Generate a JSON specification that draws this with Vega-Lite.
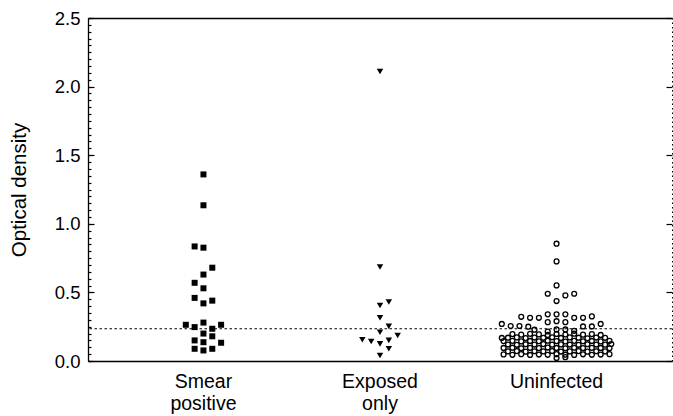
{
  "$schema": "https://vega.github.io/schema/vega-lite/v6.json",
  "width": 584,
  "height": 343,
  "autosize": {"type": "none"},
  "padding": {"left": 88, "top": 18, "right": 1, "bottom": 55},
  "background": "white",
  "config": {
    "view": {"stroke": null},
    "axis": {
      "labelFont": "Liberation Sans",
      "titleFont": "Liberation Sans",
      "labelColor": "black",
      "titleColor": "black",
      "domainColor": "black",
      "tickColor": "black",
      "grid": false,
      "domainWidth": 1.3,
      "tickWidth": 1.2
    }
  },
  "data": {
    "values": [
      {"group": "Smear positive", "col": 0, "od": 1.36},
      {"group": "Smear positive", "col": 0, "od": 1.135},
      {"group": "Smear positive", "col": -1, "od": 0.835},
      {"group": "Smear positive", "col": 0, "od": 0.826},
      {"group": "Smear positive", "col": 1, "od": 0.68},
      {"group": "Smear positive", "col": 0, "od": 0.63},
      {"group": "Smear positive", "col": -1, "od": 0.57},
      {"group": "Smear positive", "col": 0, "od": 0.53},
      {"group": "Smear positive", "col": -1, "od": 0.46},
      {"group": "Smear positive", "col": 0, "od": 0.42},
      {"group": "Smear positive", "col": 1, "od": 0.44},
      {"group": "Smear positive", "col": -2, "od": 0.264},
      {"group": "Smear positive", "col": -1, "od": 0.247},
      {"group": "Smear positive", "col": 0, "od": 0.28},
      {"group": "Smear positive", "col": 1, "od": 0.235},
      {"group": "Smear positive", "col": 2, "od": 0.264},
      {"group": "Smear positive", "col": 0, "od": 0.2},
      {"group": "Smear positive", "col": 1, "od": 0.18},
      {"group": "Smear positive", "col": -1, "od": 0.15},
      {"group": "Smear positive", "col": 0, "od": 0.137},
      {"group": "Smear positive", "col": 2, "od": 0.133},
      {"group": "Smear positive", "col": -1, "od": 0.089},
      {"group": "Smear positive", "col": 0, "od": 0.077},
      {"group": "Smear positive", "col": 1, "od": 0.089},
      {"group": "Exposed only", "col": 0, "od": 2.11},
      {"group": "Exposed only", "col": 0, "od": 0.685},
      {"group": "Exposed only", "col": 0, "od": 0.405},
      {"group": "Exposed only", "col": 1, "od": 0.43},
      {"group": "Exposed only", "col": 0, "od": 0.315},
      {"group": "Exposed only", "col": 1, "od": 0.252},
      {"group": "Exposed only", "col": 0, "od": 0.21},
      {"group": "Exposed only", "col": 2, "od": 0.186},
      {"group": "Exposed only", "col": -2, "od": 0.155},
      {"group": "Exposed only", "col": -1, "od": 0.142},
      {"group": "Exposed only", "col": 0, "od": 0.125},
      {"group": "Exposed only", "col": 1, "od": 0.15},
      {"group": "Exposed only", "col": 1, "od": 0.089},
      {"group": "Exposed only", "col": 0, "od": 0.04},
      {"group": "Uninfected", "col": 0, "od": 0.855},
      {"group": "Uninfected", "col": 0, "od": 0.726},
      {"group": "Uninfected", "col": 0, "od": 0.551},
      {"group": "Uninfected", "col": -1, "od": 0.49},
      {"group": "Uninfected", "col": 1, "od": 0.478},
      {"group": "Uninfected", "col": 2, "od": 0.49},
      {"group": "Uninfected", "col": 0, "od": 0.437},
      {"group": "Uninfected", "col": -4, "od": 0.322},
      {"group": "Uninfected", "col": -3, "od": 0.315},
      {"group": "Uninfected", "col": -2, "od": 0.315},
      {"group": "Uninfected", "col": -1, "od": 0.34},
      {"group": "Uninfected", "col": 0, "od": 0.34},
      {"group": "Uninfected", "col": 1, "od": 0.34},
      {"group": "Uninfected", "col": 2, "od": 0.315},
      {"group": "Uninfected", "col": 3, "od": 0.315},
      {"group": "Uninfected", "col": 4, "od": 0.325},
      {"group": "Uninfected", "col": -1, "od": 0.283},
      {"group": "Uninfected", "col": 0, "od": 0.29},
      {"group": "Uninfected", "col": 1, "od": 0.283},
      {"group": "Uninfected", "col": -6.2, "od": 0.27},
      {"group": "Uninfected", "col": -5.2, "od": 0.255},
      {"group": "Uninfected", "col": -4.2, "od": 0.255},
      {"group": "Uninfected", "col": -3.2, "od": 0.25},
      {"group": "Uninfected", "col": 3, "od": 0.252},
      {"group": "Uninfected", "col": 4, "od": 0.252},
      {"group": "Uninfected", "col": 5, "od": 0.27},
      {"group": "Uninfected", "col": -2.5, "od": 0.228},
      {"group": "Uninfected", "col": -1, "od": 0.215},
      {"group": "Uninfected", "col": 0, "od": 0.23},
      {"group": "Uninfected", "col": 1, "od": 0.23},
      {"group": "Uninfected", "col": 2, "od": 0.22},
      {"group": "Uninfected", "col": -5, "od": 0.196},
      {"group": "Uninfected", "col": -4, "od": 0.192},
      {"group": "Uninfected", "col": -3, "od": 0.198},
      {"group": "Uninfected", "col": -2, "od": 0.194},
      {"group": "Uninfected", "col": -1, "od": 0.19},
      {"group": "Uninfected", "col": 0, "od": 0.197},
      {"group": "Uninfected", "col": 1, "od": 0.193},
      {"group": "Uninfected", "col": 2, "od": 0.199},
      {"group": "Uninfected", "col": 3, "od": 0.192},
      {"group": "Uninfected", "col": 4, "od": 0.196},
      {"group": "Uninfected", "col": 5, "od": 0.19},
      {"group": "Uninfected", "col": -6.2, "od": 0.168},
      {"group": "Uninfected", "col": -5.5, "od": 0.17},
      {"group": "Uninfected", "col": -4.5, "od": 0.172},
      {"group": "Uninfected", "col": -3.5, "od": 0.167},
      {"group": "Uninfected", "col": -2.5, "od": 0.171},
      {"group": "Uninfected", "col": -1.5, "od": 0.169},
      {"group": "Uninfected", "col": -0.5, "od": 0.173},
      {"group": "Uninfected", "col": 0.5, "od": 0.168},
      {"group": "Uninfected", "col": 1.5, "od": 0.172},
      {"group": "Uninfected", "col": 2.5, "od": 0.17},
      {"group": "Uninfected", "col": 3.5, "od": 0.166},
      {"group": "Uninfected", "col": 4.5, "od": 0.171},
      {"group": "Uninfected", "col": 5.5, "od": 0.169},
      {"group": "Uninfected", "col": -6, "od": 0.145},
      {"group": "Uninfected", "col": -5, "od": 0.147},
      {"group": "Uninfected", "col": -4, "od": 0.143},
      {"group": "Uninfected", "col": -3, "od": 0.146},
      {"group": "Uninfected", "col": -2, "od": 0.144},
      {"group": "Uninfected", "col": -1, "od": 0.148},
      {"group": "Uninfected", "col": 0, "od": 0.145},
      {"group": "Uninfected", "col": 1, "od": 0.142},
      {"group": "Uninfected", "col": 2, "od": 0.147},
      {"group": "Uninfected", "col": 3, "od": 0.144},
      {"group": "Uninfected", "col": 4, "od": 0.146},
      {"group": "Uninfected", "col": 5, "od": 0.143},
      {"group": "Uninfected", "col": 6, "od": 0.147},
      {"group": "Uninfected", "col": -5.5, "od": 0.12},
      {"group": "Uninfected", "col": -4.5, "od": 0.118},
      {"group": "Uninfected", "col": -3.5, "od": 0.122},
      {"group": "Uninfected", "col": -2.5, "od": 0.12},
      {"group": "Uninfected", "col": -1.5, "od": 0.123},
      {"group": "Uninfected", "col": -0.5, "od": 0.119},
      {"group": "Uninfected", "col": 0.5, "od": 0.121},
      {"group": "Uninfected", "col": 1.5, "od": 0.12},
      {"group": "Uninfected", "col": 2.5, "od": 0.118},
      {"group": "Uninfected", "col": 3.5, "od": 0.122},
      {"group": "Uninfected", "col": 4.5, "od": 0.12},
      {"group": "Uninfected", "col": 5.5, "od": 0.119},
      {"group": "Uninfected", "col": 6.2, "od": 0.124},
      {"group": "Uninfected", "col": -6, "od": 0.095},
      {"group": "Uninfected", "col": -5, "od": 0.097},
      {"group": "Uninfected", "col": -4, "od": 0.093},
      {"group": "Uninfected", "col": -3, "od": 0.096},
      {"group": "Uninfected", "col": -2, "od": 0.094},
      {"group": "Uninfected", "col": -1, "od": 0.098},
      {"group": "Uninfected", "col": 0, "od": 0.095},
      {"group": "Uninfected", "col": 1, "od": 0.093},
      {"group": "Uninfected", "col": 2, "od": 0.097},
      {"group": "Uninfected", "col": 3, "od": 0.094},
      {"group": "Uninfected", "col": 4, "od": 0.096},
      {"group": "Uninfected", "col": 5, "od": 0.095},
      {"group": "Uninfected", "col": 6, "od": 0.093},
      {"group": "Uninfected", "col": -5.5, "od": 0.07},
      {"group": "Uninfected", "col": -4.5, "od": 0.072},
      {"group": "Uninfected", "col": -3.5, "od": 0.068},
      {"group": "Uninfected", "col": -2.5, "od": 0.071},
      {"group": "Uninfected", "col": -1.5, "od": 0.07},
      {"group": "Uninfected", "col": -0.5, "od": 0.073},
      {"group": "Uninfected", "col": 0.5, "od": 0.069},
      {"group": "Uninfected", "col": 1.5, "od": 0.07},
      {"group": "Uninfected", "col": 2.5, "od": 0.072},
      {"group": "Uninfected", "col": 3.5, "od": 0.068},
      {"group": "Uninfected", "col": 4.5, "od": 0.071},
      {"group": "Uninfected", "col": 5.5, "od": 0.07},
      {"group": "Uninfected", "col": -6, "od": 0.048},
      {"group": "Uninfected", "col": -5, "od": 0.045},
      {"group": "Uninfected", "col": -4, "od": 0.05},
      {"group": "Uninfected", "col": -3, "od": 0.044},
      {"group": "Uninfected", "col": -2, "od": 0.047},
      {"group": "Uninfected", "col": -1, "od": 0.045},
      {"group": "Uninfected", "col": 0, "od": 0.05},
      {"group": "Uninfected", "col": 1, "od": 0.046},
      {"group": "Uninfected", "col": 2, "od": 0.044},
      {"group": "Uninfected", "col": 3, "od": 0.049},
      {"group": "Uninfected", "col": 4, "od": 0.045},
      {"group": "Uninfected", "col": 5, "od": 0.047},
      {"group": "Uninfected", "col": 6, "od": 0.05},
      {"group": "Uninfected", "col": 0, "od": 0.022},
      {"group": "Uninfected", "col": 1, "od": 0.028}
    ]
  },
  "layer": [
    {
      "data": {"values": [{"cutoff": 0.235}]},
      "mark": {"type": "rule", "color": "black", "strokeWidth": 1, "strokeDash": [2.5, 2.5]},
      "encoding": {
        "y": {
          "field": "cutoff", "type": "quantitative",
          "axis": {
            "orient": "left", "domain": false, "labels": false, "title": null,
            "ticks": true, "tickSize": 3, "offset": -3,
            "values": [0,0.05,0.1,0.15,0.2,0.25,0.3,0.35,0.4,0.45,0.5,0.55,0.6,0.65,0.7,0.75,0.8,0.85,0.9,0.95,1,1.05,1.1,1.15,1.2,1.25,1.3,1.35,1.4,1.45,1.5,1.55,1.6,1.65,1.7,1.75,1.8,1.85,1.9,1.95,2,2.05,2.1,2.15,2.2,2.25,2.3,2.35,2.4,2.45,2.5]
          }
        }
      }
    },
    {
      "transform": [{"filter": "datum.group === 'Smear positive'"}],
      "mark": {"type": "point", "shape": "square", "filled": true, "color": "black", "size": 36, "opacity": 1},
      "encoding": {
        "x": {
          "field": "group", "type": "nominal",
          "scale": {"domain": ["Smear positive", "Exposed only", "Uninfected"], "paddingInner": 0, "paddingOuter": 0.154},
          "axis": {
            "orient": "bottom", "title": null, "ticks": false, "labelAngle": 0,
            "labelFontSize": 19.5, "labelPadding": 11, "labelLineHeight": 22,
            "labelBaseline": "top",
            "labelExpr": "split(datum.label, ' ')"
          }
        },
        "xOffset": {"field": "col", "type": "quantitative", "scale": {"domain": [-10, 10], "zero": false}},
        "y": {
          "field": "od", "type": "quantitative",
          "scale": {"domain": [0, 2.5], "nice": false, "zero": false},
          "axis": {
            "orient": "left", "title": "Optical density", "titleFontSize": 20.5,
            "titleFontWeight": "normal", "titlePadding": 25,
            "ticks": false, "labelPadding": 8, "labelFontSize": 18.5,
            "values": [0, 0.5, 1, 1.5, 2, 2.5], "format": ".1f"
          }
        }
      }
    },
    {
      "transform": [{"filter": "datum.group === 'Exposed only'"}],
      "mark": {"type": "point", "shape": "triangle-down", "filled": true, "color": "black", "size": 42, "opacity": 1},
      "encoding": {
        "x": {"field": "group", "type": "nominal", "axis": null},
        "xOffset": {"field": "col", "type": "quantitative"},
        "y": {"field": "od", "type": "quantitative", "axis": null}
      }
    },
    {
      "transform": [{"filter": "datum.group === 'Uninfected'"}],
      "mark": {"type": "point", "shape": "circle", "filled": false, "stroke": "black", "fill": "white", "fillOpacity": 0, "strokeWidth": 1.3, "size": 24, "opacity": 1},
      "encoding": {
        "x": {"field": "group", "type": "nominal", "axis": null},
        "xOffset": {"field": "col", "type": "quantitative"},
        "y": {"field": "od", "type": "quantitative", "axis": null}
      }
    },
    {
      "data": {"values": [{}]},
      "mark": {"type": "point", "opacity": 0},
      "encoding": {
        "y": {
          "datum": 0, "type": "quantitative",
          "axis": {"orient": "left", "domain": false, "labels": false, "title": null, "tickSize": 6, "offset": -6, "values": [0, 0.5, 1, 1.5, 2, 2.5]}
        }
      }
    },
    {
      "data": {"values": [{}]},
      "mark": {"type": "point", "opacity": 0},
      "encoding": {
        "y": {
          "datum": 0, "type": "quantitative",
          "axis": {"orient": "right", "domain": true, "domainDash": [1.5, 3], "domainWidth": 1, "ticks": false, "labels": false, "title": null}
        }
      }
    },
    {
      "data": {"values": [{}]},
      "mark": {"type": "point", "opacity": 0},
      "encoding": {
        "y": {
          "datum": 0, "type": "quantitative",
          "axis": {"orient": "right", "domain": false, "labels": false, "title": null, "tickSize": 6, "offset": -6, "values": [0, 0.5, 1, 1.5, 2, 2.5]}
        }
      }
    },
    {
      "data": {"values": [{}]},
      "mark": {"type": "point", "opacity": 0},
      "encoding": {
        "x": {
          "datum": "Smear positive", "type": "nominal",
          "axis": {"orient": "top", "domain": true, "ticks": false, "labels": false, "title": null}
        }
      }
    }
  ],
  "resolve": {"axis": {"x": "independent", "y": "independent"}}
}
